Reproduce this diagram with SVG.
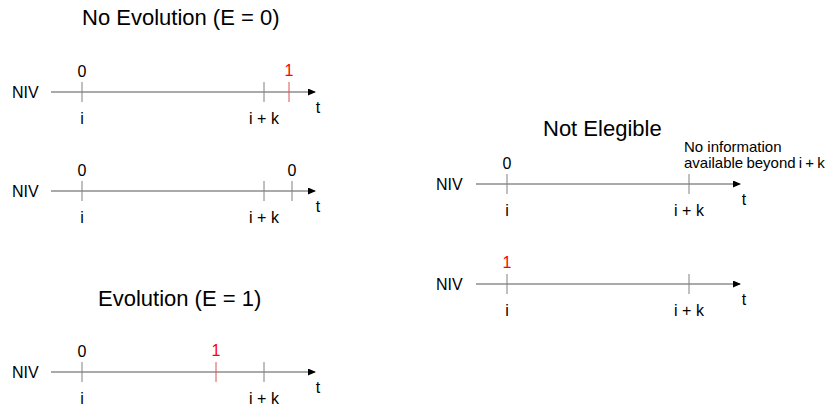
<svg xmlns="http://www.w3.org/2000/svg" width="831" height="411" viewBox="0 0 831 411">
<defs>
<marker id="arr" markerWidth="8" markerHeight="7" refX="7" refY="3.5" orient="auto" markerUnits="userSpaceOnUse">
<path d="M0,0 L8,3.5 L0,7 Z" fill="#000"/>
</marker>
<style>
text{font-family:"Liberation Sans",Arial,sans-serif;fill:#000}
.t16{font-size:16px}
.mid{text-anchor:middle}
.title{font-size:22px}
.red{fill:#ff0000}
.axis{stroke:#555;stroke-width:1;fill:none}
.tick{stroke:#808080;stroke-width:1}
.rtick{stroke:#e05050;stroke-width:1}
.note{font-size:15px}
</style>
</defs>
<rect width="831" height="411" fill="#fff"/>

<text class="title" x="82" y="25">No Evolution (E = 0)</text>
<text class="title" x="98" y="306">Evolution (E = 1)</text>
<text class="title" x="543" y="136">Not Elegible</text>

<g id="connectors">
<line class="axis" x1="51" y1="92" x2="315" y2="92" marker-end="url(#arr)"/>
<line class="axis" x1="51" y1="191" x2="315" y2="191" marker-end="url(#arr)"/>
<line class="axis" x1="51" y1="372" x2="315" y2="372" marker-end="url(#arr)"/>
<line class="axis" x1="476" y1="184" x2="740" y2="184" marker-end="url(#arr)"/>
<line class="axis" x1="476" y1="284" x2="740" y2="284" marker-end="url(#arr)"/>
</g>

<g id="timeline1">
<text class="t16" x="12" y="98">NIV</text>
<line class="tick" x1="82" y1="82" x2="82" y2="102"/>
<line class="tick" x1="264" y1="82" x2="264" y2="102"/>
<line class="rtick" x1="289" y1="82" x2="289" y2="102"/>
<text class="t16 mid" x="82" y="77">0</text>
<text class="t16 mid red" x="289" y="76">1</text>
<text class="t16 mid" x="82" y="124">i</text>
<text class="t16 mid" x="264" y="124">i + k</text>
<text class="t16 mid" x="318" y="113">t</text>
</g>

<g id="timeline2">
<text class="t16" x="12" y="197">NIV</text>
<line class="tick" x1="82" y1="181" x2="82" y2="201"/>
<line class="tick" x1="264" y1="181" x2="264" y2="201"/>
<line class="tick" x1="292" y1="181" x2="292" y2="201"/>
<text class="t16 mid" x="82" y="176">0</text>
<text class="t16 mid" x="292" y="176">0</text>
<text class="t16 mid" x="82" y="223">i</text>
<text class="t16 mid" x="264" y="223">i + k</text>
<text class="t16 mid" x="318" y="212">t</text>
</g>

<g id="timeline3">
<text class="t16" x="12" y="378">NIV</text>
<line class="tick" x1="82" y1="362" x2="82" y2="382"/>
<line class="rtick" x1="216" y1="362" x2="216" y2="382"/>
<line class="tick" x1="264" y1="362" x2="264" y2="382"/>
<text class="t16 mid" x="82" y="357">0</text>
<text class="t16 mid red" x="216" y="356">1</text>
<text class="t16 mid" x="82" y="404">i</text>
<text class="t16 mid" x="264" y="404">i + k</text>
<text class="t16 mid" x="318" y="393">t</text>
</g>

<g id="timeline4">
<text class="t16" x="436" y="190">NIV</text>
<line class="tick" x1="507" y1="174" x2="507" y2="194"/>
<line class="tick" x1="689" y1="174" x2="689" y2="194"/>
<text class="t16 mid" x="507" y="169">0</text>
<text class="t16 mid" x="507" y="216">i</text>
<text class="t16 mid" x="689" y="216">i + k</text>
<text class="t16 mid" x="744" y="205">t</text>
<text class="note" x="684" y="152">No information</text>
<text class="note" x="684" y="168" word-spacing="-1">available beyond i + k</text>
</g>

<g id="timeline5">
<text class="t16" x="436" y="290">NIV</text>
<line class="tick" x1="507" y1="274" x2="507" y2="294"/>
<line class="tick" x1="689" y1="274" x2="689" y2="294"/>
<text class="t16 mid red" x="507" y="268">1</text>
<text class="t16 mid" x="507" y="316">i</text>
<text class="t16 mid" x="689" y="316">i + k</text>
<text class="t16 mid" x="744" y="305">t</text>
</g>
</svg>
